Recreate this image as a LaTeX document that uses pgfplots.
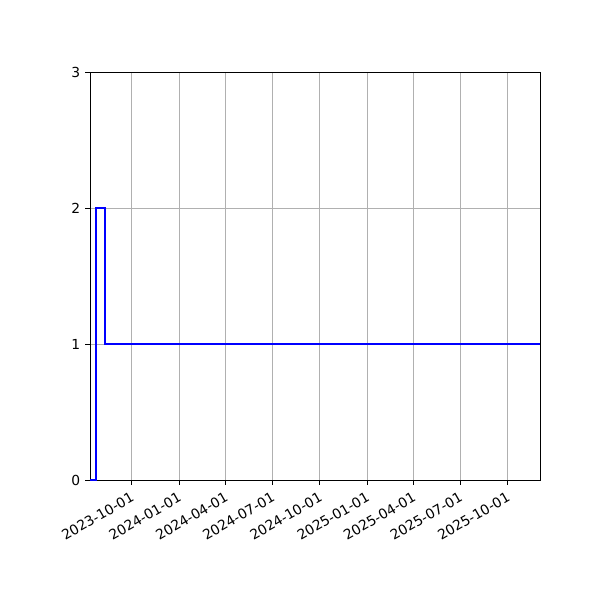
\documentclass[border=0pt]{standalone}
\usepackage{pgfplots}
\pgfplotsset{compat=1.18}
\usepackage{fontspec}
\setmainfont{DejaVu Sans}
\begin{document}
% x in days after 2023-10-01
\begin{tikzpicture}
\useasboundingbox (-65.04pt,-86.72pt) rectangle (368.56pt,346.93pt);
\begin{axis}[
    at={(0,0)}, anchor=south west,
    scale only axis,
    width=325.2pt, height=294.9pt,
    xmin=-81, xmax=794,
    ymin=0, ymax=3,
    xtick={0,92,183,274,366,458,548,639,731},
    xticklabels={2023-10-01,2024-01-01,2024-04-01,2024-07-01,2024-10-01,2025-01-01,2025-04-01,2025-07-01,2025-10-01},
    ytick={0,1,2,3},
    x tick label style={rotate=30, anchor=north east, font=\fontsize{10}{12}\selectfont},
    y tick label style={font=\fontsize{10}{12}\selectfont},
    /pgf/number format/assume math mode=true,
    tick align=outside,
    major tick length=3.5pt,
    tick style={black, line width=0.58pt},
    xtick pos=bottom, ytick pos=left,
    grid=major,
    grid style={color=black!31, line width=0.58pt},
    axis line style={line width=0.58pt},
]
\addplot[const plot, color=blue, line width=1.5pt] coordinates {
    (-81,0) (-70,2) (-52,1) (794,1)
};
\end{axis}
\end{tikzpicture}
\end{document}
